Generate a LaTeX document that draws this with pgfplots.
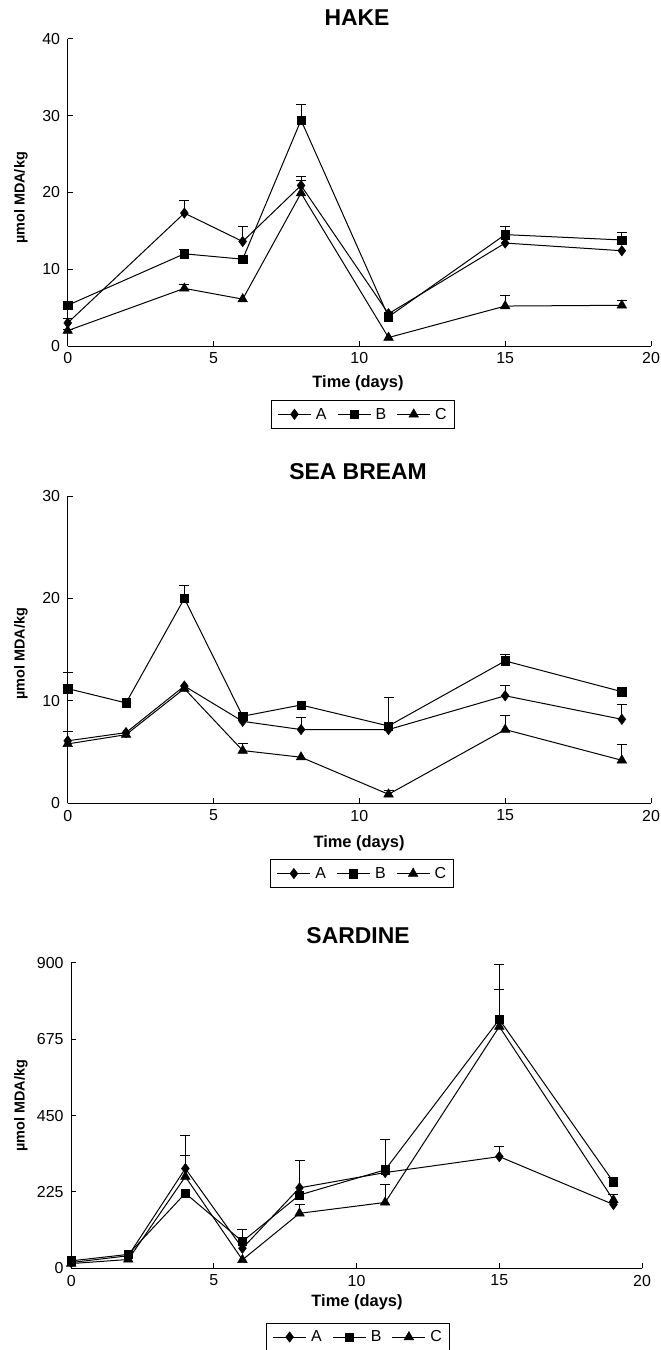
\documentclass[border=0pt]{standalone}
\usepackage{pgfplots}
\pgfplotsset{compat=1.18}
\usepackage{fontspec}
\setmainfont{Liberation Sans}

\pgfplotsset{
  fishaxis/.style={
    scale only axis,
    anchor=south west,
    axis x line*=bottom, axis y line*=left,
    xmin=0, xmax=20, xtick={0,5,10,15,20},
    ymin=0,
    tick align=inside, major tick length=5bp,
    axis line style={line width=1bp, black},
    every tick/.style={line width=1bp, black},
    tick label style={font=\fontsize{16}{16}\selectfont},
    /pgf/number format/assume math mode=true,
    yticklabel style={inner sep=0pt, anchor=east, xshift=-7.5bp},
    xticklabel style={inner sep=0pt, anchor=north, yshift=-6.5bp},
    clip=false,
    title style={font=\bfseries\fontsize{23}{23}\selectfont, anchor=center},
    xlabel style={font=\bfseries\fontsize{16.5}{16.5}\selectfont, anchor=center},
    ylabel style={font=\bfseries\fontsize{14.5}{14.5}\selectfont, anchor=center},
    xlabel={Time (days)},
    ylabel={µmol MDA/kg},
    legend columns=3,
    legend style={draw=black, line width=1bp, anchor=north,
      font=\fontsize{16}{16}\selectfont,
      inner xsep=6bp, inner ysep=6bp,
      nodes={inner sep=1.5bp},
      /tikz/every odd column/.append style={column sep=3bp},
      /tikz/every even column/.append style={column sep=9bp}},
    legend image code/.code={
      \draw[mark repeat=2,mark phase=2,#1] plot coordinates {(0bp,0bp) (16.5bp,0bp) (33bp,0bp)};
    },
    every axis plot/.append style={line width=1bp, black},
  },
  sA/.style={mark=diamond*, mark size=5.2bp, mark options={solid, fill=black, line width=0.5bp}},
  sB/.style={mark=square*, mark size=4.2bp, mark options={solid, fill=black, line width=0.5bp}},
  sC/.style={mark=triangle*, mark size=5.5bp, mark options={solid, fill=black, line width=0.5bp}},
  eb/.style={only marks, mark=none, forget plot,
    error bars/.cd, y dir=plus, y explicit,
    error bar style={line width=1bp, draw=black, solid},
    error mark=|,
    error mark options={line width=1bp, mark size=5bp, draw=black, black}},
}

\begin{document}
\begin{tikzpicture}
\path[use as bounding box] (0bp,0bp) rectangle (661bp,-1350bp);

% ---------------- HAKE ----------------
\begin{axis}[fishaxis,
  at={(67.7bp,-346bp)}, width=583.3bp, height=307.3bp,
  ymax=40, ytick={0,10,20,30,40},
  title={HAKE}, title style={at={(axis description cs:0.4961,1.0478)}},
  xlabel style={at={(axis description cs:0.4977,-0.1204)}},
  ylabel style={at={(axis description cs:-0.080,0.4816)}},
  legend style={at={(axis description cs:0.506,-0.1757)}},
]
\addplot[sA] coordinates {(0,3.0)(4,17.3)(6,13.6)(8,20.9)(11,4.2)(15,13.4)(19,12.4)};
\addplot[sB] coordinates {(0,5.3)(4,12.0)(6,11.3)(8,29.4)(11,3.8)(15,14.5)(19,13.8)};
\addplot[sC] coordinates {(0,2.0)(4,7.5)(6,6.1)(8,19.9)(11,1.1)(15,5.2)(19,5.3)};
\legend{A,B,C}
\addplot[eb] coordinates {(0,3.0)+-(0,0.6) (4,17.3)+-(0,1.6) (6,13.6)+-(0,2.0) (8,20.9)+-(0,1.2)};
\addplot[eb] coordinates {(4,12.0)+-(0,0.6) (8,29.4)+-(0,2.0) (15,14.5)+-(0,1.1) (19,13.8)+-(0,1.0)};
\addplot[eb] coordinates {(0,2.0)+-(0,0.2) (4,7.5)+-(0,0.5) (8,19.9)+-(0,1.7) (15,5.2)+-(0,1.35) (19,5.3)+-(0,0.6)};
\end{axis}

% ---------------- SEA BREAM ----------------
\begin{axis}[fishaxis,
  at={(67.7bp,-803.3bp)}, width=583.3bp, height=307.3bp,
  ymax=30, ytick={0,10,20,30},
  title={SEA BREAM}, title style={at={(axis description cs:0.4977,1.0586)}},
  xlabel style={at={(axis description cs:0.4995,-0.130)}},
  ylabel style={at={(axis description cs:-0.080,0.486)}},
  legend style={at={(axis description cs:0.505,-0.182)}},
]
\addplot[sA] coordinates {(0,6.1)(2,6.9)(4,11.45)(6,8.0)(8,7.2)(11,7.2)(15,10.5)(19,8.2)};
\addplot[sB] coordinates {(0,11.2)(2,9.8)(4,20.0)(6,8.5)(8,9.6)(11,7.55)(15,13.9)(19,10.9)};
\addplot[sC] coordinates {(0,5.8)(2,6.7)(4,11.2)(6,5.15)(8,4.5)(11,0.88)(15,7.2)(19,4.2)};
\legend{A,B,C}
\addplot[eb] coordinates {(0,6.1)+-(0,0.9) (8,7.2)+-(0,1.2) (15,10.5)+-(0,1.0) (19,8.2)+-(0,1.4)};
\addplot[eb] coordinates {(0,11.2)+-(0,1.55) (4,20.0)+-(0,1.3) (11,7.55)+-(0,2.8) (15,13.9)+-(0,0.6) (19,10.9)+-(0,0.3)};
\addplot[eb] coordinates {(6,5.15)+-(0,0.65) (11,0.88)+-(0,0.35) (15,7.2)+-(0,1.35) (19,4.2)+-(0,1.5)};
\end{axis}

% ---------------- SARDINE ----------------
\begin{axis}[fishaxis,
  at={(71.2bp,-1268.3bp)}, width=570.8bp, height=305.6bp,
  ymax=900, ytick={0,225,450,675,900},
  title={SARDINE}, title style={at={(axis description cs:0.5025,1.0687)}},
  xlabel style={at={(axis description cs:0.5007,-0.1126)}},
  ylabel style={at={(axis description cs:-0.088,0.532)}},
  legend style={at={(axis description cs:0.5025,-0.178)}},
]
\addplot[sA] coordinates {(0,17)(2,37)(4,294)(6,59)(8,237)(11,282)(15,329)(19,188)};
\addplot[sB] coordinates {(0,22)(2,41)(4,221)(6,79)(8,216)(11,290)(15,733)(19,254)};
\addplot[sC] coordinates {(0,14)(2,26)(4,270)(6,25)(8,162)(11,194)(15,712)(19,201)};
\legend{A,B,C}
\addplot[eb] coordinates {(4,294)+-(0,96) (6,59)+-(0,56) (8,237)+-(0,80) (11,282)+-(0,96) (15,329)+-(0,29) (19,188)+-(0,28)};
\addplot[eb] coordinates {(15,733)+-(0,162) (19,254)+-(0,14)};
\addplot[eb] coordinates {(4,270)+-(0,62) (8,162)+-(0,26) (11,194)+-(0,54) (15,712)+-(0,110) (19,201)+-(0,17)};
\end{axis}
\end{tikzpicture}
\end{document}
